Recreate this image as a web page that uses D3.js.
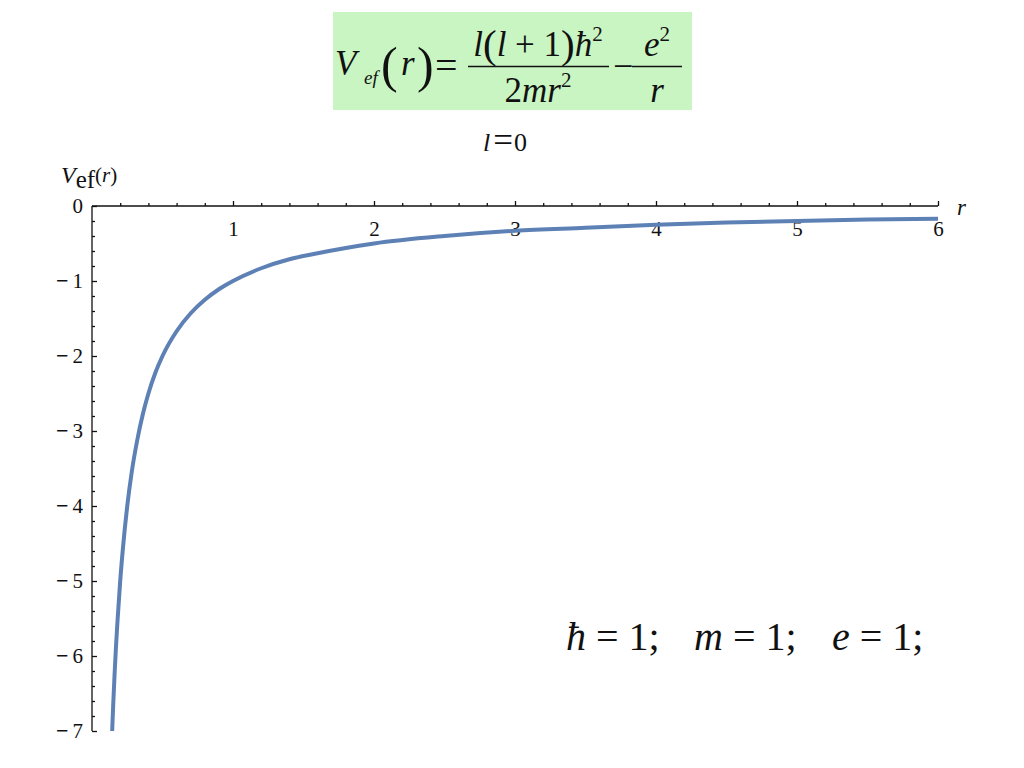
<!DOCTYPE html>
<html>
<head>
<meta charset="utf-8">
<script src="https://cdn.jsdelivr.net/npm/d3@7"></script>
<style>
  html, body { margin: 0; padding: 0; background: #fff; }
  svg { display: block; }
  svg text { font-family: "Liberation Serif", "Times New Roman", serif; fill: #111; }
</style>
</head>
<body>
<svg id="chart" width="1024" height="768"></svg>
<script>
// ---- data (l = 0 effective potential curve) ----
const rValues = [0.143, 0.15, 0.16, 0.17, 0.18, 0.2, 0.22, 0.25, 0.28, 0.32, 0.36, 0.4, 0.45, 0.5,
                 0.6, 0.7, 0.8, 0.9, 1.0, 1.2, 1.4, 1.6, 1.8, 2.0, 2.5, 3.0, 3.5, 4.0, 4.5, 5.0, 5.5, 6.0];
const vValues = [-7.0, -6.67, -6.25, -5.88, -5.56, -5.0, -4.55, -4.0, -3.57, -3.13, -2.78, -2.5, -2.22, -2.0,
                 -1.67, -1.43, -1.25, -1.11, -1.0, -0.83, -0.71, -0.63, -0.56, -0.5, -0.4, -0.33, -0.29, -0.25, -0.22, -0.2, -0.18, -0.17];
const xMajorTicks = [1, 2, 3, 4, 5, 6];
const xMinorTicks = [0.2,0.4,0.6,0.8,1.2,1.4,1.6,1.8,2.2,2.4,2.6,2.8,3.2,3.4,3.6,3.8,4.2,4.4,4.6,4.8,5.2,5.4,5.6,5.8];
const yMajorTicks = [0, -1, -2, -3, -4, -5, -6, -7];
const yMinorTicks = [-0.2,-0.4,-0.6,-0.8,-1.2,-1.4,-1.6,-1.8,-2.2,-2.4,-2.6,-2.8,-3.2,-3.4,-3.6,-3.8,
                     -4.2,-4.4,-4.6,-4.8,-5.2,-5.4,-5.6,-5.8,-6.2,-6.4,-6.6,-6.8];
const xDomain = [0, 6];
const yDomain = [-7, 0];

const svg = d3.select("#chart");

const x = d3.scaleLinear().domain(xDomain).range([92, 938]);
const y = d3.scaleLinear().domain(yDomain).range([731, 206]);

// ---- formula box ----
const fb = svg.append("g");
fb.append("rect").attr("x", 333).attr("y", 12).attr("width", 359).attr("height", 98).attr("fill", "#c9f5c2");
const ital = "italic";
function txt(xp, yp, s, size, style, anchor) {
  return fb.append("text").attr("x", xp).attr("y", yp).attr("font-size", size)
    .attr("font-style", style || "normal").attr("text-anchor", anchor || "start").text(s);
}
txt(335, 75, "V", 35, ital);
txt(364, 84, "ef", 19, ital);
txt(381, 82, "(", 50);
txt(401, 75, "r", 35, ital);
txt(417, 82, ")", 50);
txt(435, 79, "=", 40);
// numerator l(l+1)ħ²
const num = fb.append("text").attr("x", 538).attr("y", 56).attr("text-anchor", "middle").attr("font-size", 35);
num.append("tspan").attr("font-style", ital).text("l");
num.append("tspan").attr("font-size", 41).attr("dy", 2).text("(");
num.append("tspan").attr("font-style", ital).attr("dy", -2).text("l");
num.append("tspan").text(" + 1");
num.append("tspan").attr("font-size", 41).attr("dy", 2).text(")");
num.append("tspan").attr("font-style", ital).attr("dy", -2).text("ħ");
num.append("tspan").attr("font-size", 21).attr("dy", -15).text("2");
fb.append("line").attr("x1", 468).attr("x2", 609).attr("y1", 66.5).attr("y2", 66.5).attr("stroke", "#111").attr("stroke-width", 1.6);
const den = fb.append("text").attr("x", 538).attr("y", 102).attr("text-anchor", "middle").attr("font-size", 35);
den.append("tspan").text("2");
den.append("tspan").attr("font-style", ital).text("mr");
den.append("tspan").attr("font-size", 21).attr("dy", -15).text("2");
txt(613, 78, "−", 36);
fb.append("line").attr("x1", 632).attr("x2", 682).attr("y1", 66.5).attr("y2", 66.5).attr("stroke", "#111").attr("stroke-width", 1.6);
const n2 = fb.append("text").attr("x", 657).attr("y", 56).attr("text-anchor", "middle").attr("font-size", 35);
n2.append("tspan").attr("font-style", ital).text("e");
n2.append("tspan").attr("font-size", 21).attr("dy", -15).text("2");
txt(657, 102, "r", 35, ital, "middle");

// ---- title l=0 ----
const title = svg.append("text").attr("x", 483).attr("y", 151).attr("font-size", 26);
title.append("tspan").attr("font-style", "italic").text("l");
title.append("tspan").attr("font-size", 35).attr("dx", 3).attr("dy", 1).text("=");
title.append("tspan").attr("dx", 1).attr("dy", -1).text("0");

// ---- axes ----
const axisColor = "#111";
const gx = svg.append("g").attr("transform", `translate(0,${y(0)})`);
gx.call(d3.axisBottom(x).tickValues(xMajorTicks).tickSizeInner(-5).tickSizeOuter(0).tickPadding(14)
  .tickFormat(d3.format("d")));
gx.select(".domain").attr("d", `M${x(0)},0H${x(6)}`);
const gxm = svg.append("g").attr("transform", `translate(0,${y(0)})`);
gxm.call(d3.axisBottom(x).tickValues(xMinorTicks).tickSizeInner(-3).tickSizeOuter(0).tickFormat(""));
gxm.select(".domain").remove();
gx.selectAll("text").attr("font-size", 21).attr("fill", "#111").attr("dy", "0.76em");

const gy = svg.append("g").attr("transform", `translate(${x(0)},0)`);
gy.call(d3.axisLeft(y).tickValues(yMajorTicks).tickSizeInner(-5).tickSizeOuter(0).tickPadding(9)
  .tickFormat(""));
gy.select(".domain").attr("d", `M0,${y(0)}V${y(-7)}`);
gy.selectAll(".tick text").each(function(d) {
  const t = d3.select(this).attr("font-size", 21).attr("fill", "#111");
  if (d < 0) {
    t.append("tspan").attr("font-weight", "bold").attr("font-size", 22).text("−");
    t.append("tspan").attr("dx", 4).text(String(Math.abs(d)));
  } else {
    t.append("tspan").text("0");
  }
});
const gym = svg.append("g").attr("transform", `translate(${x(0)},0)`);
gym.call(d3.axisLeft(y).tickValues(yMinorTicks).tickSizeInner(-3).tickSizeOuter(0).tickFormat(""));
gym.select(".domain").remove();
svg.selectAll(".domain, .tick line").attr("stroke", axisColor).attr("stroke-width", 1.3);

// axis labels
const yl = svg.append("text").attr("x", 61).attr("y", 183).attr("font-size", 24);
yl.append("tspan").attr("font-style", "italic").text("V");
yl.append("tspan").attr("dy", 5).attr("font-size", 25).text("ef");
yl.append("tspan").attr("dy", -6).attr("font-size", 21).text("(");
yl.append("tspan").attr("font-size", 21).attr("font-style", "italic").text("r");
yl.append("tspan").attr("font-size", 21).text(")");
svg.append("text").attr("x", 957).attr("y", 215).attr("font-size", 23).attr("font-style", "italic").text("r");

// ---- curve ----
const pts = rValues.map((r, i) => [r, vValues[i]]);
const line = d3.line().x(d => x(d[0])).y(d => y(d[1])).curve(d3.curveMonotoneX);
svg.append("path").datum(pts).attr("d", line).attr("fill", "none")
  .attr("stroke", "#5e81b5").attr("stroke-width", 4).attr("stroke-linecap", "butt");

// ---- constants note ----
const note = svg.append("g");
function noteItem(xp, sym) {
  const t = note.append("text").attr("x", xp).attr("y", 650).attr("font-size", 40);
  t.append("tspan").attr("font-style", "italic").text(sym);
  t.append("tspan").text(" = 1;");
}
noteItem(566, "ħ");
noteItem(694, "m");
noteItem(832, "e");
</script>
</body>
</html>
